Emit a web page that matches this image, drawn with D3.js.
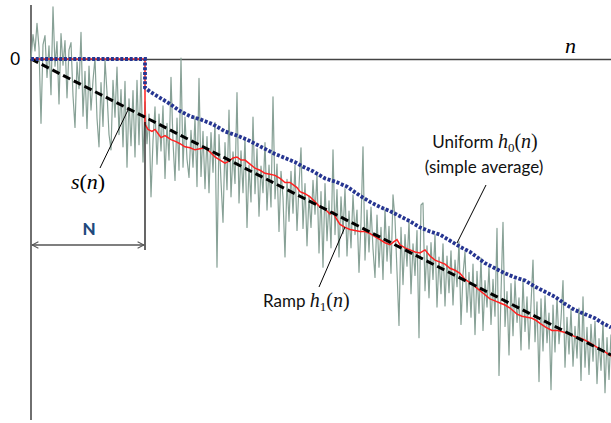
<!DOCTYPE html>
<html><head><meta charset="utf-8">
<script src="https://cdn.jsdelivr.net/npm/d3@7"></script>
<style>body{margin:0;background:#fff}svg{display:block}</style>
</head><body><svg id="c" width="611" height="423"></svg>
<script>
// noisy input signal s(n), n = 0..290
const signal = [
 0, 24, 8, 35, 11, -63, 14, 23, -18, 13,
 -35, 51, -7, 17, -44, 25, -6, 18, -38, 9,
 16, -36, -67, -3, -29, 26, -56, -12, -68, -7,
 -50, -21, 1, -58, -86, -23, -66, -1, -33, -74,
 -89, -21, -57, -8, -74, -30, -86, -22, -106, -39,
 -85, -31, -96, -21, -84, -13, -101, -42, -83, -54,
 -135, -80, -47, -103, -54, -90, -46, -117, -63, -99,
 -18, -81, -119, -58, -109, 1, -106, -57, -98, -116,
 -70, -106, -57, -125, -19, -115, -71, -127, -76, -131,
 -72, -111, -62, -204, -74, -120, -160, -82, -128, -50,
 -135, -91, -122, -33, -141, -90, -131, -77, -165, -104,
 -140, -57, -132, -88, -154, -105, -131, -82, -148, -104,
 -145, -37, -137, -103, -169, -110, -136, -194, -118, -159,
 -110, -151, -104, -168, -124, -87, -166, -122, -183, -134,
 -165, -119, -152, -113, -190, -130, -204, -122, -178, -139,
 -185, -89, -172, -128, -194, -135, -171, -127, -193, -149,
 -185, -133, -172, -148, -209, -160, -86, -197, -148, -189,
 -145, -186, -214, -153, -204, -165, -216, -147, -198, -164,
 -210, -133, -157, -208, -261, -165, -221, -172, -203, -159,
 -230, -181, -212, -168, -273, -143, -141, -227, -183, -234,
 -180, -216, -172, -243, -194, -230, -181, -242, -193, -229,
 -188, -241, -197, -223, -179, -260, -211, -189, -248, -209,
 -253, -201, -270, -208, -249, -195, -266, -217, -243, -204,
 -260, -216, -252, -166, -310, -230, -160, -262, -228, -290,
 -220, -271, -217, -258, -234, -285, -216, -267, -233, -284,
 -240, -197, -277, -238, -316, -235, -286, -232, -278, -249,
 -324, -241, -287, -233, -279, -255, -217, -302, -253, -289,
 -245, -301, -262, -293, -244, -315, -233, -302, -263, -309,
 -260, -296, -257, -318, -274, -305, -258, -327, -273, -314, -270
];

// underlying linear trend (dashed)
const trendN = [0, 290];
const trendV = [0, -290];

// ramp filter output h1(n) (red)
const rampN = [0,57,57,58.5,60.5,62,63.5,65,67,70,72.5,74.5,77,79.5,82,84.5,87,89.5,92,94.5,97,99,101,103,105,107,109.5,112,114.5,117,119.5,122,124.5,127,129.5,131,133,134.5,137,139.5,142,144.5,147,149.5,151,152.5,154.5,157,159.5,162,164.5,167,169.5,172,174.5,177,179.5,181.5,183,184.5,187,189.5,192,194.5,197,199.5,202,204.5,207,209.5,212,214.5,217,219.5,222,224.5,227,229.5,232,234.5,237,239.5,243,245.5,248,250.5,252.5,254.5,257.5,260.5,263.5,267,269.5,272,275.5,278.5,281,283.5,287,290];
const rampV = [0,0,-64,-69,-71,-69,-73,-77,-75,-79,-81,-83,-86,-87,-89,-88,-87,-91,-96,-99,-102,-100,-97,-96,-99,-99,-103,-107,-109,-112,-113,-114,-117,-121,-121,-123,-126,-130,-132,-135,-140,-145,-147,-152,-150,-156,-162,-165,-167,-168,-169,-169,-171,-174,-177,-180,-182,-179,-177,-182,-185,-187,-189,-190,-187,-193,-197,-199,-201,-205,-207,-210,-216,-219,-223,-227,-231,-235,-237,-239,-241,-244,-250,-252,-253,-254,-256,-259,-263,-266,-266,-268,-270,-272,-274,-277,-280,-283,-287,-291];

// uniform filter output h0(n) (blue dotted)
const uniformN = [0,57,57,59.5,64.5,69.5,74.5,79.5,84.5,91,97,103,108,113,117,122,127,132,135.5,141,147,152,158,164.5,169.5,174.5,179.5,184.5,189.5,194.5,199.5,204.5,209.5,214.5,219.5,227,232,237,242,247,252,257,262,267,272,277,282,286,290];
const uniformV = [0,0,-28,-32,-38,-44,-51,-56,-59,-64,-71,-75,-79,-84,-88,-93,-97,-101,-105,-110,-117,-120,-125,-134,-140,-145,-149,-154,-159,-165,-169,-172,-178,-184,-189,-200,-205,-210,-214,-217,-223,-228,-233,-240,-246,-250,-254,-259,-263];

const windowN = 57;      // N
const yTicks = [0];

const svg = d3.select("#c");
const x = d3.scaleLinear().domain([0, 290]).range([31, 611]);
const y = d3.scaleLinear().domain([0, -290]).range([59, 355]);
const line = d3.line().x(d => x(d[0])).y(d => y(d[1]));

const SANS = "Lato, 'Open Sans', sans-serif";
const SERIF = "'Liberation Serif', 'DejaVu Serif', serif";

// vertical axis line
svg.append("line").attr("x1", x(0)).attr("x2", x(0))
  .attr("y1", 5).attr("y2", 420)
  .attr("stroke", "#222").attr("stroke-width", 1.3);

// horizontal axis (n)
const xAx = svg.append("g").attr("transform", `translate(0,${y(0)})`)
  .call(d3.axisBottom(x).tickValues([]).tickSizeOuter(0));
xAx.select(".domain").attr("stroke", "#444").attr("stroke-width", 1.4);

const yAx = svg.append("g").attr("transform", `translate(${x(0)},0)`)
  .call(d3.axisLeft(y).tickValues(yTicks).tickSize(0).tickPadding(11).tickFormat(d3.format("d")));
yAx.select(".domain").remove();
yAx.selectAll("text").attr("font-family", SANS).attr("font-size", 17).attr("fill", "#000");

// signal
svg.append("path").datum(signal.map((v, i) => [i, v])).attr("d", line)
  .attr("fill", "none").attr("stroke", "#87a196").attr("stroke-width", 1.2)
  .attr("stroke-linejoin", "round");

// ramp (red)
svg.append("path").datum(rampN.map((n, i) => [n, rampV[i]])).attr("d", line)
  .attr("fill", "none").attr("stroke", "#ff2020").attr("stroke-width", 1.5);

// trend dashed
svg.append("path").datum(trendN.map((n, i) => [n, trendV[i]])).attr("d", line)
  .attr("fill", "none").attr("stroke", "#000").attr("stroke-width", 3)
  .attr("stroke-dasharray", "8,4");

// uniform (blue dotted)
svg.append("path").datum(uniformN.map((n, i) => [n, uniformV[i]])).attr("d", line)
  .attr("fill", "none").attr("stroke", "#263591").attr("stroke-width", 3.8)
  .attr("stroke-dasharray", "3,1.7");

// N marker vertical line
svg.append("line").attr("x1", x(windowN)).attr("x2", x(windowN))
  .attr("y1", 122).attr("y2", 250).attr("stroke", "#000").attr("stroke-width", 1.2);

// N arrow
const defs = svg.append("defs");
["s", "e"].forEach(k => {
  defs.append("marker").attr("id", "a" + k).attr("viewBox", "0 0 10 10")
    .attr("refX", k === "e" ? 9 : 1).attr("refY", 5).attr("markerWidth", 8).attr("markerHeight", 8)
    .attr("markerUnits", "userSpaceOnUse").attr("orient", "auto")
    .append("path").attr("d", k === "e" ? "M1,1 L9,5 L1,9" : "M9,1 L1,5 L9,9")
    .attr("fill", "none").attr("stroke", "#555").attr("stroke-width", 1.3);
});
svg.append("line").attr("x1", x(0) + 1).attr("x2", x(windowN) - 1)
  .attr("y1", 245).attr("y2", 245).attr("stroke", "#555").attr("stroke-width", 1.4)
  .attr("marker-start", "url(#as)").attr("marker-end", "url(#ae)");
svg.append("text").attr("x", (x(0) + x(windowN)) / 2 + 1).attr("y", 235)
  .attr("text-anchor", "middle").attr("font-family", SANS).attr("font-weight", 900)
  .attr("font-size", 17).attr("fill", "#1f497d").text("N");

// leader lines
const leaders = [[100, 168, 128, 110], [319, 287, 345, 227], [486, 185, 457, 243]];
leaders.forEach(l => svg.append("line").attr("x1", l[0]).attr("y1", l[1]).attr("x2", l[2]).attr("y2", l[3])
  .attr("stroke", "#000").attr("stroke-width", 1));

// n label
svg.append("text").attr("x", 565).attr("y", 53).attr("font-family", SERIF)
  .attr("font-style", "italic").attr("font-size", 22).text("n");

// s(n)
const sl = svg.append("text").attr("x", 88).attr("y", 189).attr("text-anchor", "middle")
  .attr("font-family", SERIF).attr("font-size", 22);
sl.append("tspan").attr("font-style", "italic").text("s");
sl.append("tspan").text("(");
sl.append("tspan").attr("font-style", "italic").text("n");
sl.append("tspan").text(")");

function filterLabel(tx, ty, word, sub, anchor) {
  const t = svg.append("text").attr("x", tx).attr("y", ty).attr("text-anchor", anchor).attr("fill", "#111");
  t.append("tspan").attr("font-family", SANS).attr("font-size", 17).text(word + " ");
  t.append("tspan").attr("font-family", SERIF).attr("font-style", "italic").attr("font-size", 20).text("h");
  t.append("tspan").attr("font-family", SERIF).attr("font-size", 13).attr("dy", 4).text(sub);
  t.append("tspan").attr("font-family", SERIF).attr("font-size", 20).attr("dy", -4).text("(");
  t.append("tspan").attr("font-family", SERIF).attr("font-style", "italic").attr("font-size", 20).text("n");
  t.append("tspan").attr("font-family", SERIF).attr("font-size", 20).text(")");
}
filterLabel(485, 148, "Uniform", "0", "middle");
svg.append("text").attr("x", 484).attr("y", 173).attr("text-anchor", "middle").attr("fill", "#111")
  .attr("font-family", SANS).attr("font-size", 17).text("(simple average)");
filterLabel(263, 307, "Ramp", "1", "start");
</script></body></html>
